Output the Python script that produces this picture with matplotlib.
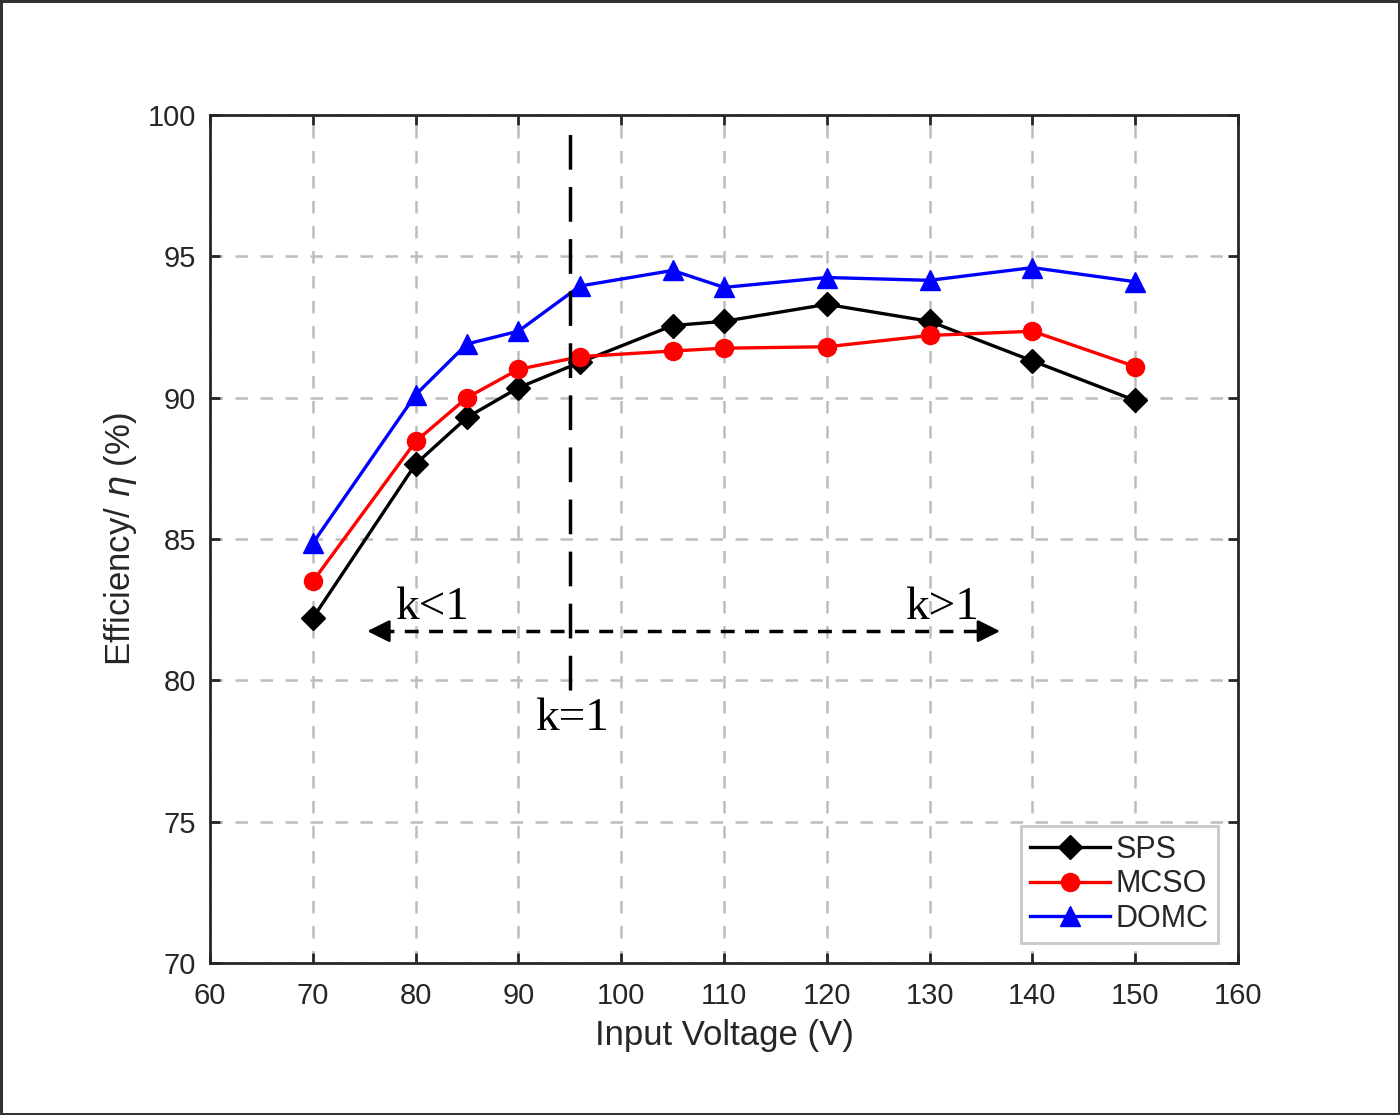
import matplotlib
matplotlib.use("Agg")
from matplotlib import pyplot as plt

# input voltage (V)
voltage = [70, 80, 85, 90, 96, 105, 110, 120, 130, 140, 150]

# efficiency (%)
sps = [82.2, 87.65, 89.3, 90.35, 91.25, 92.55, 92.7, 93.3, 92.7, 91.3, 89.9]
mcso = [83.5, 88.45, 90.0, 91.0, 91.45, 91.65, 91.75, 91.8, 92.2, 92.35, 91.1]
domc = [84.85, 90.1, 91.9, 92.35, 93.95, 94.5, 93.9, 94.25, 94.15, 94.6, 94.1]

txt = '#262626'
plt.rcParams['font.family'] = ['Liberation Sans', 'DejaVu Sans']

fig = plt.figure(figsize=(14, 11.15), dpi=100, edgecolor='#333333', linewidth=2.5)
ax = fig.add_axes([0.15, 0.1363, 0.7343, 0.7606])

ax.plot(voltage, sps, color='black', lw=2.4, marker='D', ms=12, label='SPS')
ax.plot(voltage, mcso, color='red', lw=2.4, marker='o', ms=13, label='MCSO')
ax.plot(voltage, domc, color='blue', lw=2.4, marker='^', ms=14, label='DOMC')

# k=1 boundary
ax.plot([95, 95], [79.66, 99.64], color='black', lw=2.5, dashes=(10, 5), zorder=4)
# k range arrow
ax.plot([76.5, 135.6], [81.74, 81.74], color='black', lw=2.5, dashes=(4, 3), zorder=4)
head = dict(arrowstyle='-|>', color='black', lw=2, mutation_scale=34, shrinkA=0, shrinkB=0)
ax.annotate('', xy=(75.3, 81.74), xytext=(77.5, 81.74), arrowprops=head)
ax.annotate('', xy=(136.85, 81.74), xytext=(134.65, 81.74), arrowprops=head)

serif = dict(family=['Liberation Serif', 'DejaVu Serif'], fontsize=34,
             ha='center', va='center', color='black')
ax.text(95.2, 78.65, 'k=1', **serif)
ax.text(81.6, 82.55, 'k<1', **serif)
ax.text(131.2, 82.55, 'k>1', **serif)

ax.set_xlim(60, 160)
ax.set_ylim(70, 100)
ax.set_xticks(range(60, 161, 10))
ax.set_yticks(range(70, 101, 5))
ax.grid(True, color='#bdbdbd', lw=1.8, dashes=(5, 5))
ax.set_axisbelow(True)
ax.tick_params(direction='in', length=7, width=2, top=True, right=True,
               labelsize=21, colors=txt)
ax.tick_params(axis='x', pad=14)
ax.tick_params(axis='y', pad=10)
for s in ax.spines.values():
    s.set_color(txt)
    s.set_linewidth(2)

ax.set_xlabel('Input Voltage (V)', fontsize=25, color=txt, labelpad=6)
ax.set_ylabel(r'Efficiency/ $\eta$ (%)', fontsize=25, color=txt, labelpad=6)

leg = ax.legend(loc='lower right', fontsize=22, handlelength=2.6, borderaxespad=0.65,
                fancybox=False, framealpha=1, edgecolor='#c8c8c8',
                handletextpad=0.2, labelspacing=0.15, borderpad=0.3)
leg.get_frame().set_linewidth(2)
for t in leg.get_texts():
    t.set_color(txt)

fig.savefig('out.png', dpi=100, edgecolor=fig.get_edgecolor())
